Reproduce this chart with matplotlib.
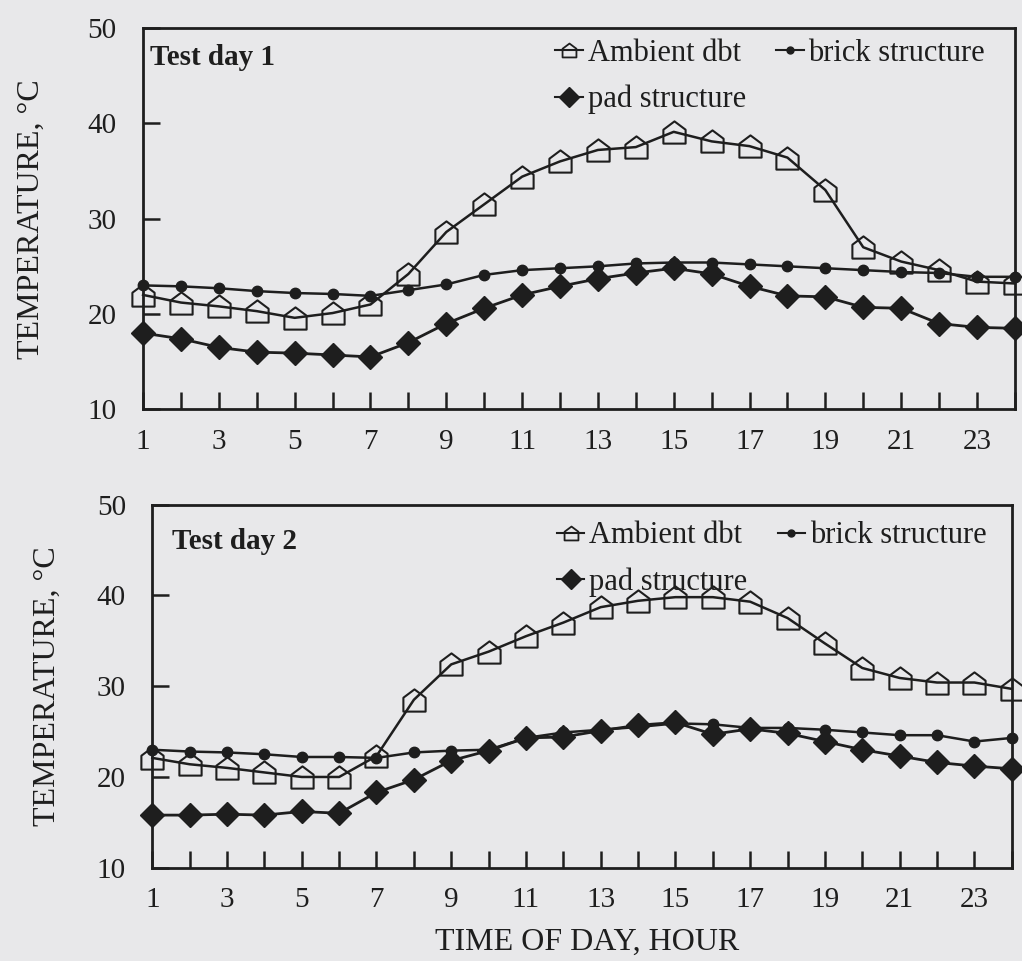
import matplotlib
matplotlib.use("Agg")
import matplotlib.pyplot as plt
from matplotlib.path import Path
from matplotlib.lines import Line2D

hours = list(range(1, 25))

# Test day 1
amb1 = [22.0, 21.2, 20.8, 20.3, 19.6, 20.1, 21.0, 24.2, 28.6, 31.5, 34.4, 36.0,
        37.2, 37.5, 39.1, 38.1, 37.6, 36.4, 33.0, 27.0, 25.5, 24.6, 23.4, 23.2]
brick1 = [23.0, 22.9, 22.7, 22.4, 22.2, 22.1, 21.9, 22.5, 23.1, 24.1, 24.6, 24.8,
          25.0, 25.3, 25.4, 25.4, 25.2, 25.0, 24.8, 24.6, 24.4, 24.3, 23.9, 23.9]
pad1 = [18.0, 17.4, 16.5, 16.0, 15.9, 15.7, 15.5, 17.0, 19.0, 20.6, 22.0, 22.9,
        23.7, 24.3, 24.8, 24.2, 22.9, 21.9, 21.8, 20.7, 20.6, 19.0, 18.6, 18.5]

# Test day 2
amb2 = [22.1, 21.4, 21.0, 20.5, 20.0, 20.0, 22.3, 28.5, 32.4, 33.8, 35.5, 37.0,
        38.7, 39.4, 39.8, 39.8, 39.3, 37.5, 34.7, 32.0, 30.9, 30.4, 30.4, 29.7]
brick2 = [23.0, 22.8, 22.7, 22.5, 22.2, 22.2, 22.1, 22.7, 22.9, 23.0, 24.3, 24.9,
          25.2, 25.5, 25.9, 25.8, 25.4, 25.4, 25.2, 24.9, 24.6, 24.6, 23.9, 24.3]
pad2 = [15.8, 15.8, 15.9, 15.8, 16.2, 16.0, 18.3, 19.7, 21.8, 22.9, 24.3, 24.4,
        25.1, 25.7, 26.0, 24.7, 25.3, 24.8, 23.9, 23.0, 22.3, 21.6, 21.2, 20.9]

xtick_labels = [str(h) for h in range(1, 24, 2)]
yticks = [10, 20, 30, 40, 50]
legend_labels = ["Ambient dbt", "brick structure", "pad structure"]

BG = "#e8e8ea"
INK = "#1e1e1e"
plt.rcParams['font.family'] = ['Liberation Serif', 'DejaVu Serif']

# house-shaped (pentagon with square base) marker
house = Path([(-1, -1), (1, -1), (1, 0.25), (0, 1), (-1, 0.25), (-1, -1)],
             [Path.MOVETO, Path.LINETO, Path.LINETO, Path.LINETO, Path.LINETO, Path.CLOSEPOLY])

fig = plt.figure(figsize=(10.22, 9.61), dpi=100, facecolor=BG)

ax1 = fig.add_axes([0.140, 0.574, 0.853, 0.397])
ax2 = fig.add_axes([0.149, 0.097, 0.841, 0.378])

panels = [(ax1, amb1, brick1, pad1, "Test day 1", (0.008, 0.958), -0.112, (0.985, 1.015)),
          (ax2, amb2, brick2, pad2, "Test day 2", (0.023, 0.935), -0.105, (0.99, 1.0))]

for ax, amb, brick, pad, title, tpos, ylx, lpos in panels:
    ax.set_facecolor(BG)
    ax.plot(hours, amb, color=INK, lw=1.8, marker=house, ms=16, mfc='none',
            mec=INK, mew=1.5, zorder=3, clip_on=False)
    ax.plot(hours, brick, color=INK, lw=1.8, marker='o', ms=7.5, mfc=INK,
            mec=INK, zorder=4, clip_on=False)
    ax.plot(hours, pad, color=INK, lw=2.0, marker='D', ms=12, mfc=INK,
            mec=INK, zorder=5, clip_on=False)
    ax.set_xlim(1, 24)
    ax.set_ylim(10, 50)
    ax.set_xticks(range(1, 24, 2))
    ax.set_xticklabels(xtick_labels)
    ax.set_xticks(range(1, 25), minor=True)
    ax.set_yticks(yticks)
    ax.tick_params(axis='both', which='both', direction='in', length=12,
                   width=1.8, color=INK, labelsize=21, labelcolor=INK)
    ax.tick_params(axis='x', which='both', pad=14)
    ax.tick_params(axis='y', which='both', pad=19)
    for s in ax.spines.values():
        s.set_linewidth(2.0)
        s.set_color(INK)
    ax.set_ylabel("TEMPERATURE, °C", fontsize=23, color=INK)
    ax.yaxis.set_label_coords(ylx, 0.5)
    ax.text(tpos[0], tpos[1], title, transform=ax.transAxes, fontsize=21,
            fontweight='bold', color=INK, va='top', ha='left')

    h_amb = Line2D([], [], color=INK, lw=1.5, marker=house, ms=10, mfc='none', mec=INK, mew=1.3)
    h_brick = Line2D([], [], color=INK, lw=1.5, marker='o', ms=5, mfc=INK, mec=INK)
    h_pad = Line2D([], [], color=INK, lw=1.5, marker='D', ms=10, mfc=INK, mec=INK)
    ax.legend([h_amb, h_pad, h_brick],
              [legend_labels[0], legend_labels[2], legend_labels[1]],
              ncol=2, loc='upper right', bbox_to_anchor=lpos,
              frameon=False, fontsize=22, handlelength=0.9, handletextpad=0.15,
              columnspacing=1.0, labelspacing=0.55, borderaxespad=0.15,
              labelcolor=INK)

ax2.set_xlabel("TIME OF DAY, HOUR", fontsize=23, color=INK)
ax2.xaxis.set_label_coords(0.506, -0.165)

fig.savefig("out.png", dpi=100, facecolor=BG)
